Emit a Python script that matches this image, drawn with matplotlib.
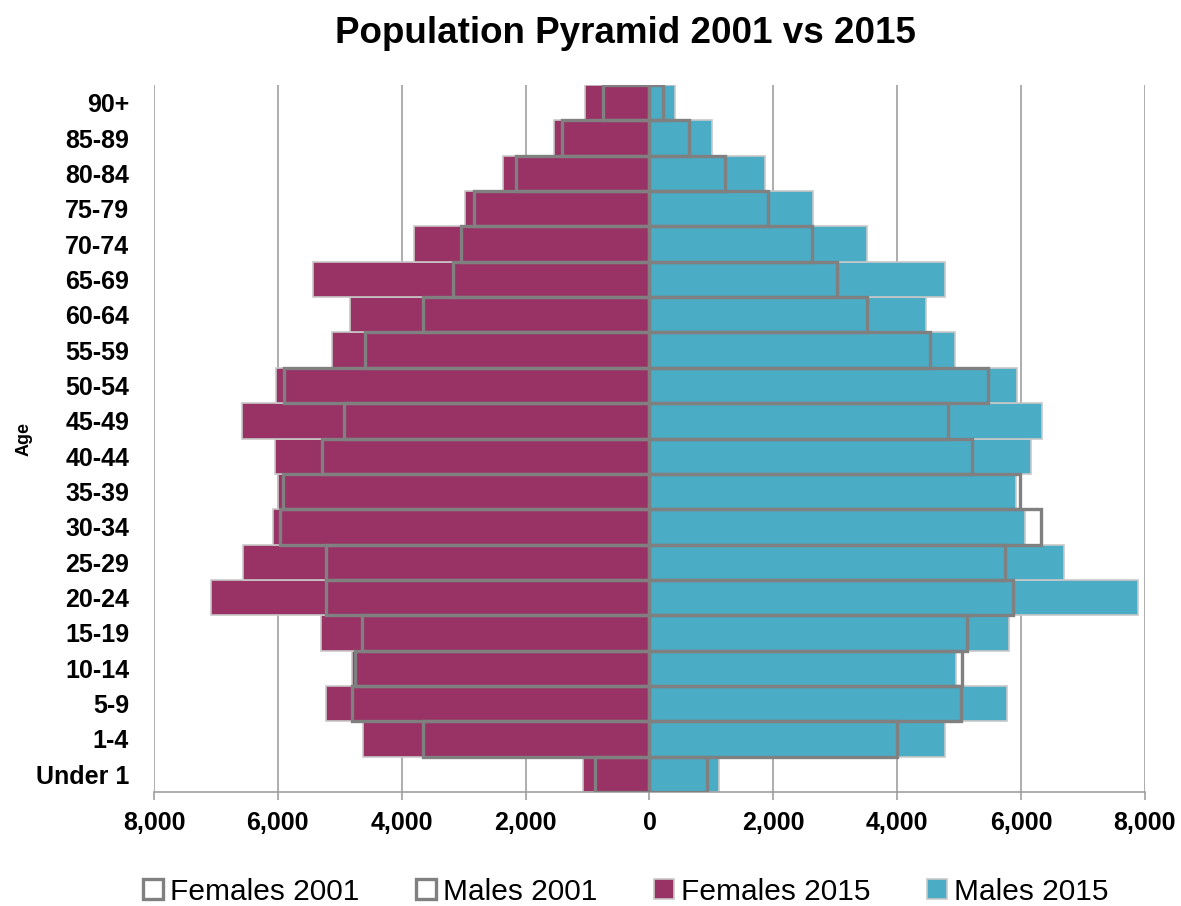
import numpy as np
import matplotlib
matplotlib.use("Agg")
import matplotlib.pyplot as plt
from matplotlib.patches import Patch
from matplotlib.ticker import FuncFormatter

plt.rcParams["font.family"] = ["Liberation Sans", "DejaVu Sans"]

AGES = ["Under 1", "1-4", "5-9", "10-14", "15-19", "20-24", "25-29", "30-34",
        "35-39", "40-44", "45-49", "50-54", "55-59", "60-64", "65-69",
        "70-74", "75-79", "80-84", "85-89", "90+"]

FEMALES_2001 = [880, 3660, 4800, 4760, 4640, 5230, 5220, 5970, 5920, 5280,
                4940, 5900, 4600, 3660, 3180, 3040, 2830, 2160, 1420, 745]
MALES_2001 = [935, 4000, 5025, 5045, 5130, 5870, 5735, 6315, 5975, 5205,
              4820, 5465, 4525, 3515, 3030, 2630, 1915, 1220, 635, 225]
FEMALES_2015 = [1080, 4630, 5220, 4800, 5300, 7080, 6570, 6080, 5995, 6050,
                6580, 6030, 5130, 4830, 5435, 3810, 2985, 2370, 1540, 1040]
MALES_2015 = [1125, 4765, 5770, 4955, 5800, 7895, 6690, 6055, 5910, 6155,
              6340, 5940, 4940, 4470, 4765, 3505, 2640, 1865, 1005, 410]

PURPLE = "#993366"
BLUE = "#4bacc6"
GREY = "#808080"
LIGHT = "#c8c8c8"

fig = plt.figure(figsize=(11.81, 9.06), dpi=100)
ax = fig.add_axes([0.1304, 0.1258, 0.8391, 0.7804])

y = np.arange(len(AGES))
h = 1.0

# 2015 filled bars underneath, 2001 as grey outlines on top
ax.barh(y, -np.array(FEMALES_2015), height=h, color=PURPLE, edgecolor=LIGHT,
        linewidth=1.2, zorder=2)
ax.barh(y, MALES_2015, height=h, color=BLUE, edgecolor=LIGHT,
        linewidth=1.2, zorder=2)
ax.barh(y, -np.array(FEMALES_2001), height=h, fill=False, edgecolor=GREY,
        linewidth=2.4, zorder=3)
ax.barh(y, MALES_2001, height=h, fill=False, edgecolor=GREY,
        linewidth=2.4, zorder=3)
ax.axvline(0, color=GREY, lw=1.5, zorder=4)

ax.set_xlim(-8000, 8000)
ax.set_ylim(-0.5, len(AGES) - 0.5)
ax.set_xticks(np.arange(-8000, 8001, 2000))
ax.xaxis.set_major_formatter(FuncFormatter(lambda v, p: f"{abs(int(v)):,}"))
ax.set_yticks(y)
ax.set_yticklabels(AGES)

ax.grid(axis="x", color="#a0a0a0", lw=1.2, zorder=0)
ax.set_axisbelow(True)
for s in ["top", "right", "left"]:
    ax.spines[s].set_visible(False)
ax.spines["bottom"].set_color("#a0a0a0")
ax.spines["bottom"].set_linewidth(1.2)
ax.tick_params(axis="x", length=6, color="#a0a0a0", width=1.2, pad=8)
ax.tick_params(axis="y", length=0, pad=18)
for lab in ax.get_xticklabels() + ax.get_yticklabels():
    lab.set_fontsize(18)
    lab.set_fontweight("bold")

ax.set_ylabel("Age", fontsize=13, fontweight="bold", labelpad=2)
fig.suptitle("Population Pyramid 2001 vs 2015", fontsize=26.5, fontweight="bold",
             x=0.53, y=0.982)

handles = [
    Patch(facecolor="white", edgecolor=GREY, linewidth=2.4, label="Females 2001"),
    Patch(facecolor="white", edgecolor=GREY, linewidth=2.4, label="Males 2001"),
    Patch(facecolor=PURPLE, edgecolor=LIGHT, linewidth=1.2, label="Females 2015"),
    Patch(facecolor=BLUE, edgecolor=LIGHT, linewidth=1.2, label="Males 2015"),
]
fig.legend(handles=handles, loc="center", bbox_to_anchor=(0.53, 0.016),
           ncol=4, frameon=False, fontsize=21.5, handlelength=0.65,
           handleheight=0.65, handletextpad=0.25, columnspacing=1.9)

fig.savefig("out.png", dpi=100)
